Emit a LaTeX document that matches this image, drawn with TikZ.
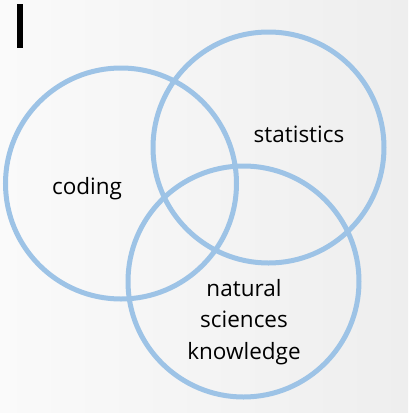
\documentclass[tikz,border=0pt]{standalone}
\usepackage{fontspec}
\setmainfont{Open Sans}
\usepackage{xcolor}
\definecolor{ringblue}{HTML}{9DC3E6}
\definecolor{slidelight}{HTML}{FAFAFA}
\definecolor{slidegray}{HTML}{EEEEEE}
\usetikzlibrary{positioning}

\begin{document}
\begin{tikzpicture}[
  x=1pt, y=-1pt,
  font=\fontsize{22.5}{31.5}\selectfont,
  ring/.style={
    circle, draw=ringblue, line width=5pt,
    minimum size=231pt, inner sep=0pt
  },
  lbl/.style={align=center, text=black}
]
  % slide background
  \shade[left color=slidelight, right color=slidegray]
    (0,0) rectangle (408,413);
  \useasboundingbox (0,0) rectangle (408,413);

  % cursor bar
  \fill[black] (17,4) rectangle (23,48);

  \node[ring] (coding) at (121,183.5) {};
  \node[ring] (stats) at (268.5,147.5) {};
  \node[ring] (natsci) at (243.5,281.5) {};

  \node[lbl] (codingtxt) at (87,189) {coding};
  \node[lbl] (statstxt) at (299,134) {statistics};
  \node[lbl] (natscitxt) at (244,322) {natural\\sciences\\knowledge};
\end{tikzpicture}
\end{document}
